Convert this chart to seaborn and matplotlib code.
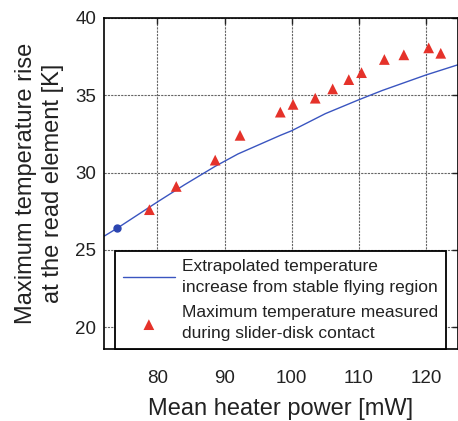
import numpy as np
import pandas as pd
import matplotlib
matplotlib.use('Agg')
import matplotlib.pyplot as plt
import seaborn as sns

# extrapolated curve
line_power = [72.1, 74.0, 80.0, 84.0, 88.6, 92.0, 98.3, 100.0, 105.0, 110.0, 113.5, 120.0, 124.7]
line_temp = [25.9, 26.4, 28.1, 29.2, 30.4, 31.2, 32.4, 32.7, 33.8, 34.7, 35.3, 36.3, 36.95]

# measured contact points
meas_power = [78.8, 82.8, 88.6, 92.3, 98.3, 100.2, 103.5, 106.1, 108.5, 110.4, 113.8, 116.7, 120.4, 122.2]
meas_temp = [27.6, 29.1, 30.8, 32.4, 33.9, 34.4, 34.8, 35.4, 36.0, 36.45, 37.3, 37.6, 38.05, 37.7]

# start of extrapolation
start_power = [74.0]
start_temp = [26.4]

sns.set_style('white')
plt.rcParams['font.family'] = ['Liberation Sans', 'DejaVu Sans']

fig = plt.figure(figsize=(4.58, 4.21), dpi=100)
ax = fig.add_axes([0.228, 0.171, 0.771, 0.787])

line_df = pd.DataFrame({'power': line_power, 'temp': line_temp})
meas_df = pd.DataFrame({'power': meas_power, 'temp': meas_temp})

sns.lineplot(data=line_df, x='power', y='temp', color='#3a55c0', lw=1.0, ax=ax,
             label='Extrapolated temperature\nincrease from stable flying region', sort=False)
sns.scatterplot(data=meas_df, x='power', y='temp', marker='^', color='#e5322a', s=60,
                edgecolor='none', ax=ax, zorder=4,
                label='Maximum temperature measured\nduring slider-disk contact')
ax.plot(start_power, start_temp, 'o', color='#2b45b0', ms=5, zorder=5)

ax.set_xlim(72.1, 124.7)
ax.set_ylim(18.6, 40)
ax.set_xticks([80, 90, 100, 110, 120])
ax.set_yticks([20, 25, 30, 35, 40])
ax.grid(True, color='#666666', lw=0.8, ls=(0, (2, 1)))
ax.tick_params(direction='in', length=4, width=1, top=True, right=True,
               labelsize=13.5, colors='#222222')
ax.tick_params(axis='x', pad=15)
ax.tick_params(axis='y', pad=6)
for sp in ax.spines.values():
    sp.set_color('black')
    sp.set_linewidth(1.2)

ax.set_xlabel('Mean heater power [mW]', fontsize=17, color='#222222', labelpad=8)
ax.set_ylabel('Maximum temperature rise\nat the read element [K]', fontsize=17,
              color='#222222', labelpad=8, linespacing=1.3)

leg = ax.legend(loc='lower left', bbox_to_anchor=(0.03, 0.0), fontsize=12.5,
                handlelength=3.0, handletextpad=0.4, borderpad=0.45, labelspacing=0.6,
                fancybox=False, framealpha=1, edgecolor='black', borderaxespad=0)
leg.get_frame().set_linewidth(1.3)
for t in leg.get_texts():
    t.set_linespacing(1.5)
    t.set_color('#222222')

fig.savefig('out.png', dpi=100)
